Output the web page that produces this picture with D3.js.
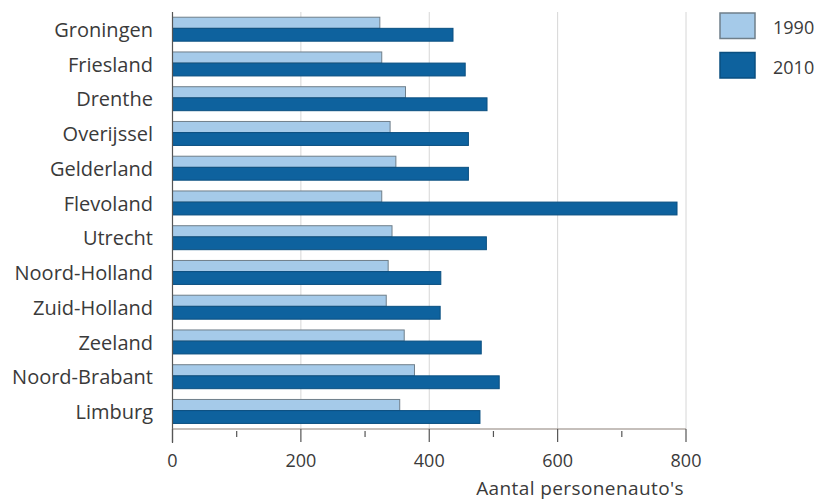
<!DOCTYPE html>
<html>
<head>
<meta charset="utf-8">
<script src="https://cdn.jsdelivr.net/npm/d3@7"></script>
<style>
  html, body { margin: 0; padding: 0; background: #ffffff; }
  svg { display: block; }
  text { font-family: "Open Sans", sans-serif; fill: #3a3a3a; }
</style>
</head>
<body>
<svg id="chart" width="823" height="502"></svg>
<script>
const provinces = ["Groningen", "Friesland", "Drenthe", "Overijssel", "Gelderland", "Flevoland",
  "Utrecht", "Noord-Holland", "Zuid-Holland", "Zeeland", "Noord-Brabant", "Limburg"];
const values1990 = [323, 326, 363, 339, 348, 326, 342, 336, 333, 361, 377, 354];
const values2010 = [437, 456, 490, 461, 461, 786, 489, 418, 417, 481, 509, 479];
const seriesNames = ["1990", "2010"];
const xTicks = [0, 200, 400, 600, 800];
const xMinorTicks = [100, 300, 500, 700];
const xTitle = "Aantal personenauto's";

const colors = { "1990": "#a5cae9", "2010": "#0e629e" };
const strokes = { "1990": "#6f7f8a", "2010": "#0a4f80" };

const svg = d3.select("#chart");
const x = d3.scaleLinear().domain([0, 800]).range([172.5, 686]);
const y = d3.scaleBand().domain(provinces).range([12, 429]).paddingInner(0).paddingOuter(0);
const bw = y.bandwidth();

// gridlines
svg.append("g").selectAll("line").data(xTicks.slice(1)).join("line")
  .attr("x1", d => x(d)).attr("x2", d => x(d))
  .attr("y1", 12).attr("y2", 429)
  .attr("stroke", "#d6d6d6").attr("stroke-width", 1);

// bars
const rows = provinces.map((p, i) => ({ p, v1: values1990[i], v2: values2010[i] }));
const g = svg.append("g");
g.selectAll("rect.b1990").data(rows).join("rect")
  .attr("class", "b1990")
  .attr("x", x(0)).attr("y", d => y(d.p) + bw * 0.15)
  .attr("width", d => x(d.v1) - x(0)).attr("height", bw * 0.32)
  .attr("fill", colors["1990"]).attr("stroke", strokes["1990"]).attr("stroke-width", 1);
g.selectAll("rect.b2010").data(rows).join("rect")
  .attr("class", "b2010")
  .attr("x", x(0)).attr("y", d => y(d.p) + bw * 0.47)
  .attr("width", d => x(d.v2) - x(0)).attr("height", bw * 0.37)
  .attr("fill", colors["2010"]).attr("stroke", strokes["2010"]).attr("stroke-width", 1);

// left axis line
svg.append("line").attr("x1", x(0)).attr("x2", x(0)).attr("y1", 12).attr("y2", 443)
  .attr("stroke", "#555555").attr("stroke-width", 1.2);

// category labels
svg.append("g").selectAll("text").data(provinces).join("text")
  .attr("x", 153).attr("y", d => y(d) + bw / 2)
  .attr("text-anchor", "end").attr("dominant-baseline", "central")
  .style("font-size", "20px")
  .text(d => d);

// bottom axis
const axis = svg.append("g").attr("transform", "translate(0,429)");
axis.append("line").attr("x1", x(0)).attr("x2", x(800)).attr("y1", 0).attr("y2", 0)
  .attr("stroke", "#8c8079").attr("stroke-width", 1.2);
axis.selectAll("line.major").data(xTicks).join("line").attr("class", "major")
  .attr("x1", d => x(d)).attr("x2", d => x(d)).attr("y1", 0).attr("y2", 13)
  .attr("stroke", "#555555").attr("stroke-width", 1.2);
axis.selectAll("line.minor").data(xMinorTicks).join("line").attr("class", "minor")
  .attr("x1", d => x(d)).attr("x2", d => x(d)).attr("y1", 2).attr("y2", 8)
  .attr("stroke", "#555555").attr("stroke-width", 1.2);
axis.selectAll("text").data(xTicks).join("text")
  .attr("x", d => x(d)).attr("y", 31)
  .attr("text-anchor", "middle").attr("dominant-baseline", "central")
  .style("font-size", "18px")
  .text(d => d);

svg.append("text").attr("x", 684).attr("y", 488)
  .attr("text-anchor", "end").attr("dominant-baseline", "central")
  .style("font-size", "19px").style("letter-spacing", "0.4px").text(xTitle);

// legend
const leg = svg.append("g");
seriesNames.forEach((s, i) => {
  leg.append("rect").attr("x", 720).attr("y", 13 + i * 39.5).attr("width", 35).attr("height", 25.5)
    .attr("fill", colors[s]).attr("stroke", strokes[s]).attr("stroke-width", 1.5);
  leg.append("text").attr("x", 773).attr("y", 27 + i * 40)
    .attr("dominant-baseline", "central").style("font-size", "18px").text(s);
});
</script>
</body>
</html>
